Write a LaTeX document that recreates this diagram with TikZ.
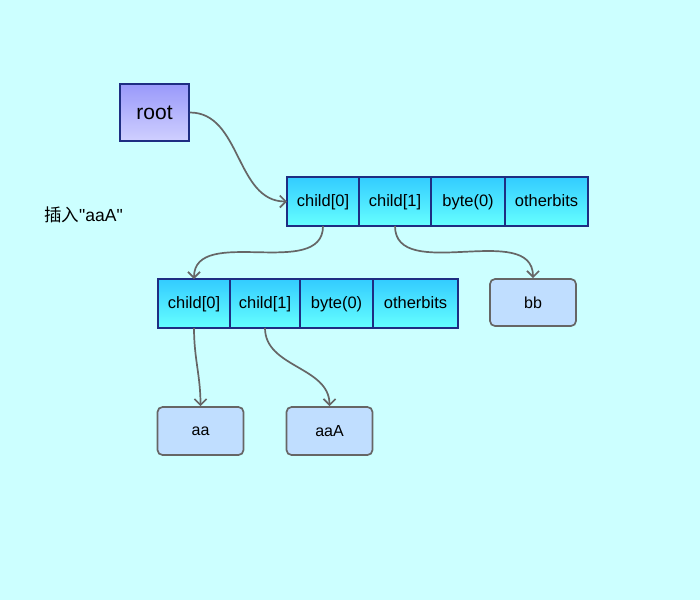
\documentclass[tikz,border=0pt]{standalone}
\usepackage{fontspec}
\setmainfont{Liberation Sans}
\newfontfamily\plainsans{Liberation Sans}
\newfontfamily\cjk{Noto Sans CJK SC}
\usetikzlibrary{arrows.meta,positioning}

\definecolor{bgcyan}{RGB}{204,255,255}
\definecolor{navy}{RGB}{30,45,130}
\definecolor{rootTop}{RGB}{153,153,250}
\definecolor{rootBot}{RGB}{208,208,255}
\definecolor{cellTop}{RGB}{51,204,255}
\definecolor{cellBot}{RGB}{102,255,255}
\definecolor{leafFill}{RGB}{192,222,255}
\definecolor{edge}{RGB}{102,102,102}

\begin{document}
\begin{tikzpicture}[
    x=1pt, y=1pt,
    >={Straight Barb[length=6pt,width=12pt]},
    cell/.style={draw=navy, line width=1.7pt, outer sep=0pt, inner sep=0pt, top color=cellTop, bottom color=cellBot, minimum height=49pt, text height=12pt, text depth=1.5pt, font=\fontsize{16.5}{19}\selectfont},
    leaf/.style={draw=edge, line width=1.7pt, rounded corners=5pt, fill=leafFill, minimum width=86pt, minimum height=48pt, font=\fontsize{16}{19}\selectfont},
    arr/.style={->, draw=edge, line width=1.7pt}
]
    \fill[bgcyan] (0,0) rectangle (700,-600);

    \node[draw=navy, line width=1.7pt, top color=rootTop, bottom color=rootBot, minimum width=69pt, minimum height=57pt, font=\fontsize{21}{24}\selectfont] (root) at (154.5,-112.5) {root};

    % first level
    \node[cell, minimum width=72pt] (top0) at (323,-201.5) {child[0]};
    \node[cell, minimum width=72pt, right=0pt of top0] (top1) {child[1]};
    \node[cell, minimum width=74pt, right=0pt of top1] (top2) {byte(0)};
    \node[cell, minimum width=83pt, right=0pt of top2] (top3) {otherbits};

    % second level
    \node[cell, minimum width=72pt] (sub0) at (194,-303.5) {child[0]};
    \node[cell, minimum width=70pt, right=0pt of sub0] (sub1) {child[1]};
    \node[cell, minimum width=73pt, right=0pt of sub1] (sub2) {byte(0)};
    \node[cell, minimum width=85pt, right=0pt of sub2] (sub3) {otherbits};

    \node[leaf, minimum height=47pt] (bb) at (533,-302.5) {bb};
    \node[leaf] (aa) at (200.5,-431) {aa};
    \node[leaf] (aaA) at (329.5,-431) {aaA};

    \node[font=\fontsize{17.5}{20}\plainsans] (note) at (83.5,-215) {{\cjk 插入}"aaA"};

    \draw[arr] (root.east) to[out=0, in=180] (top0.west);
    \draw[arr] (top0.south) to[out=-90, in=90] (sub0.north);
    \draw[arr] (top1.south) to[out=-90, in=90] (bb.north);
    \draw[arr] (sub0.south) to[out=-90, in=90] (aa.north);
    \draw[arr] (sub1.south) to[out=-90, in=90] (aaA.north);
\end{tikzpicture}
\end{document}
